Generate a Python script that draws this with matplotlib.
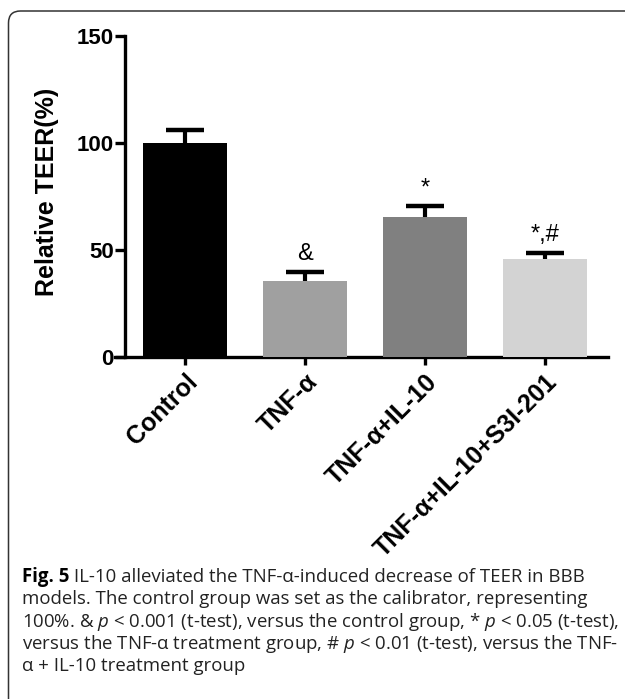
import matplotlib
matplotlib.use("Agg")
import matplotlib.pyplot as plt
from matplotlib.patches import FancyBboxPatch
from matplotlib.transforms import IdentityTransform

# data
groups = ["Control", "TNF-α", "TNF-α+IL-10", "TNF-α+IL-10+S3I-201"]
teer = [100.0, 35.7, 65.4, 46.0]
sem = [6.0, 3.9, 5.0, 2.8]
marks = ["", "&", "*", "*,#"]
bar_colors = ["#000000", "#a0a0a0", "#808080", "#d3d3d3"]

caption = [
    " IL-10 alleviated the TNF-α-induced decrease of TEER in BBB",
    "models. The control group was set as the calibrator, representing",
    "100%. & $p$ < 0.001 (t-test), versus the control group, * $p$ < 0.05 (t-test),",
    "versus the TNF-α treatment group, # $p$ < 0.01 (t-test), versus the TNF-",
    "α + IL-10 treatment group",
]

plt.rcParams['mathtext.fontset'] = 'custom'
plt.rcParams['mathtext.rm'] = 'Open Sans'
plt.rcParams['mathtext.it'] = 'Open Sans:italic'

W, H = 625, 699
fig = plt.figure(figsize=(W / 100, H / 100), dpi=100)

# page frame with rounded top-left corner
frame = FancyBboxPatch((8.5, -30), 640, 688 + 30, boxstyle="round,pad=0,rounding_size=12",
                       transform=IdentityTransform(), fill=False, ec="#333333", lw=1.1)
fig.patches.append(frame)

ax = fig.add_axes([125 / W, 1 - 357 / H, (608 - 125) / W, (357 - 36) / H])
x = list(range(len(groups)))
ax.bar(x, teer, width=0.7, color=bar_colors, zorder=3)
# symmetric bars drawn behind the columns so only the upper half shows
ax.errorbar(x, teer, yerr=sem, fmt="none", ecolor="black",
            elinewidth=3, capsize=14, capthick=3.2, zorder=2)

for xi, m, e, s in zip(x, marks, teer, sem):
    if m:
        ax.annotate(m, (xi, e + s), xytext=(0, 13), textcoords="offset points",
                    ha="center", va="center", fontsize=17, family="Liberation Sans")

ax.set_xlim(-0.5, 3.525)
ax.set_ylim(0, 150)
ax.set_yticks([0, 50, 100, 150])
ax.set_xticks(x)
ax.set_xticklabels(groups, rotation=45, ha="right", va="top", rotation_mode="anchor",
                   fontsize=18, fontweight="bold", family="Liberation Sans")
for lab in ax.get_yticklabels():
    lab.set_fontsize(16)
    lab.set_fontweight("bold")
    lab.set_family("Liberation Sans")

for s in ["top", "right"]:
    ax.spines[s].set_visible(False)
for s in ["left", "bottom"]:
    ax.spines[s].set_linewidth(2.4)
ax.spines["bottom"].set_bounds(-0.5 - 10 / 120, 3.525)
ax.tick_params(axis="y", length=7, width=2.4, pad=1)
ax.tick_params(axis="x", length=6, width=2.4, pad=3)

fig.text(47 / W, 1 - 192 / H, "Relative TEER(%)", rotation=90, ha="center", va="center",
         fontsize=18, fontweight="bold", family="Liberation Sans")

# caption
cap_size = 13.4
x0 = 22 / W
base0 = 582
step = 22.3
head = fig.text(x0, 1 - base0 / H, "Fig. 5", fontsize=cap_size, fontweight="bold",
                family="Open Sans", va="baseline")
fig.canvas.draw()
ext = head.get_window_extent()
fig.text(ext.x1 / W, 1 - base0 / H, caption[0], fontsize=cap_size, family="Open Sans",
         va="baseline", color="#222222")
for i, line in enumerate(caption[1:], start=1):
    fig.text(x0, 1 - (base0 + i * step) / H, line, fontsize=cap_size, family="Open Sans",
             va="baseline", color="#222222")

fig.savefig("out.png", dpi=100)
